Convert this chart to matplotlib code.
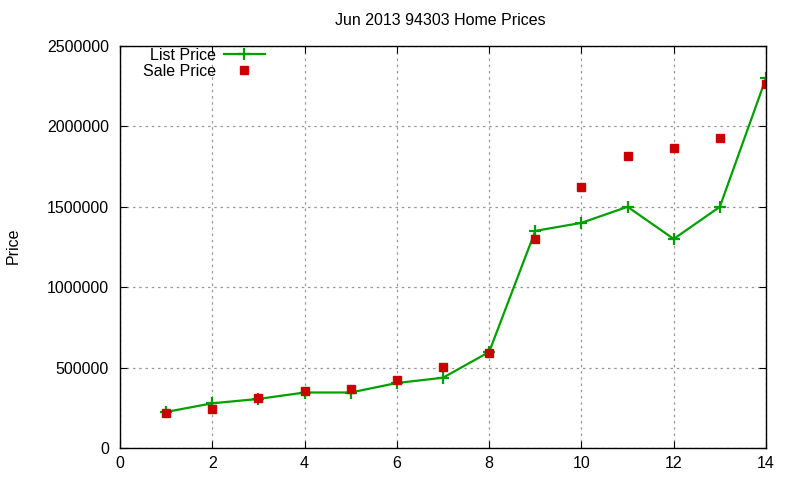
import numpy as np
import matplotlib.pyplot as plt

plt.rcParams['font.family'] = ['Liberation Sans', 'DejaVu Sans']

x = [1, 2, 3, 4, 5, 6, 7, 8, 9, 10, 11, 12, 13, 14]
list_price = [224000, 278000, 305000, 345000, 345000, 404000, 437000, 597000,
              1350000, 1400000, 1500000, 1300000, 1500000, 2300000]
sale_price = [220000, 243000, 311000, 355000, 367000, 423000, 504000, 591000,
              1300000, 1623000, 1815000, 1866000, 1930000, 2262000]

fs = 11.5
fig = plt.figure(figsize=(8, 4.8), dpi=100)
ax = fig.add_axes([0.15, 0.0667, 0.8075, 0.8375])

ax.plot(x, list_price, color='#00a000', lw=1.6, marker='+', ms=8, mew=1.6,
        label='List Price')
ax.plot(x, sale_price, ls='none', marker='s', ms=6, color='#cc0000',
        label='Sale Price')

ax.set_xlim(0, 14)
ax.set_ylim(0, 2500000)
ax.set_xticks(range(0, 15, 2))
ax.set_yticks(range(0, 2500001, 500000))
ax.ticklabel_format(style='plain', axis='y')
ax.grid(True, color='#999999', ls=(0, (2, 3)), lw=0.9)
ax.tick_params(direction='in', top=True, right=True, labelsize=fs, length=5)
ax.tick_params(axis='x', pad=6)
ax.tick_params(axis='y', pad=8)
for s in ax.spines.values():
    s.set_linewidth(1.0)

fig.text(0.55, 0.958, 'Jun 2013 94303 Home Prices', fontsize=fs,
         ha='center', va='center')
fig.text(0.016, 0.489, 'Price', fontsize=fs, rotation=90,
         ha='center', va='center')

ax.legend(loc='upper left', bbox_to_anchor=(0.035, 0.995), frameon=False,
          markerfirst=False, fontsize=fs, handlelength=2.6, handletextpad=0.5,
          labelspacing=0.05, borderaxespad=0, borderpad=0)

fig.savefig('out.png')
